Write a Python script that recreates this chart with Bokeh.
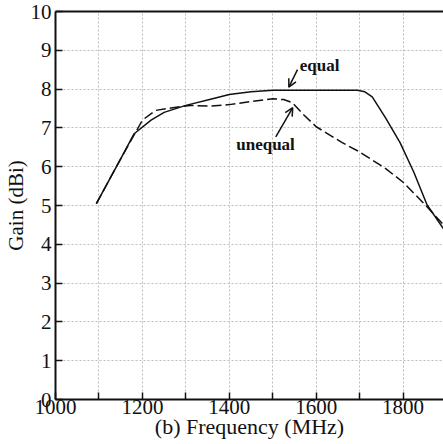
from bokeh.plotting import figure
from bokeh.models import FixedTicker, Arrow, OpenHead, Label, Range1d, LinearAxis
from bokeh.embed import file_html
from bokeh.resources import INLINE

# Data
freq_equal = [1094, 1150, 1181, 1220, 1250, 1300, 1357, 1400, 1450, 1500, 1600, 1695, 1712, 1729, 1760, 1793, 1825, 1855, 1893]
gain_equal = [5.05, 6.2, 6.85, 7.2, 7.4, 7.58, 7.74, 7.86, 7.93, 7.97, 7.97, 7.97, 7.93, 7.8, 7.25, 6.62, 5.85, 5.02, 4.4]

freq_unequal = [1094, 1150, 1200, 1230, 1270, 1310, 1357, 1400, 1450, 1500, 1525, 1545, 1570, 1600, 1660, 1700, 1760, 1800, 1855, 1893]
gain_unequal = [5.05, 6.2, 7.2, 7.45, 7.52, 7.58, 7.56, 7.6, 7.68, 7.75, 7.73, 7.65, 7.35, 7.03, 6.62, 6.38, 5.95, 5.6, 4.97, 4.5]

x_ticks = [1000, 1200, 1400, 1600, 1800]
x_minor = [1100, 1300, 1500, 1700]
y_ticks = [0, 1, 2, 3, 4, 5, 6, 7, 8, 9, 10]

FONT = "Liberation Serif"

p = figure(width=443, height=444, output_backend="svg", toolbar_location=None,
           x_range=Range1d(1000, 1893), y_range=Range1d(0, 10),
           min_border_left=55, min_border_top=11, min_border_right=0, min_border_bottom=45)
p.background_fill_color = "white"
p.border_fill_color = "white"
p.outline_line_color = None

# grid
for g in (p.xgrid, p.ygrid):
    g.grid_line_color = "#bdbdbd"
    g.grid_line_dash = "2 2"
    g.grid_line_width = 1
p.xgrid.minor_grid_line_color = "#bdbdbd"
p.xgrid.minor_grid_line_dash = "2 2"

p.xaxis.ticker = FixedTicker(ticks=x_ticks, minor_ticks=x_minor)
p.yaxis.ticker = FixedTicker(ticks=y_ticks)

for ax in (p.xaxis, p.yaxis):
    ax.axis_line_color = "#111111"
    ax.axis_line_width = 2
    ax.major_tick_in = 7
    ax.major_tick_out = 0
    ax.minor_tick_in = 7
    ax.minor_tick_out = 0
    ax.major_tick_line_color = "#111111"
    ax.minor_tick_line_color = "#111111"
    ax.major_tick_line_width = 1.5
    ax.minor_tick_line_width = 1.5
    ax.major_label_text_font = FONT
    ax.major_label_text_font_size = "21px"
    ax.major_label_text_color = "#111111"
    ax.axis_label_text_font = FONT
    ax.axis_label_text_font_style = "normal"
    ax.axis_label_text_color = "#111111"

p.xaxis.axis_label_text_font_size = "22px"
p.yaxis.axis_label_text_font_size = "21px"
p.xaxis.major_label_standoff = 0
p.xaxis.axis_label_standoff = -3
p.yaxis.major_label_standoff = 4
p.yaxis.axis_label_standoff = 0

p.yaxis.minor_tick_line_color = None
p.xaxis.axis_label = "(b) Frequency (MHz)"
p.yaxis.axis_label = "Gain (dBi)"

# top frame line
top = LinearAxis(ticker=FixedTicker(ticks=[]), major_label_text_font_size="0px",
                 axis_line_color="#111111", axis_line_width=2,
                 major_tick_line_color=None, minor_tick_line_color=None)
p.add_layout(top, "above")

p.line(freq_equal, gain_equal, line_color="#111111", line_width=1.5)
p.line(freq_unequal, gain_unequal, line_color="#111111", line_width=1.5, line_dash="10 4")

# annotations
p.add_layout(Label(x=1562, y=8.6, text="equal", text_font=FONT, text_font_size="17px",
                   text_font_style="bold", text_color="#111111", text_baseline="middle"))
p.add_layout(Arrow(end=OpenHead(size=8, line_width=1.5, line_color="#111111"),
                   x_start=1557, y_start=8.5, x_end=1537, y_end=8.05,
                   line_width=1.5, line_color="#111111"))
p.add_layout(Label(x=1416, y=6.56, text="unequal", text_font=FONT, text_font_size="17px",
                   text_font_style="bold", text_color="#111111", text_baseline="middle"))
p.add_layout(Arrow(end=OpenHead(size=8, line_width=1.5, line_color="#111111"),
                   x_start=1507, y_start=6.77, x_end=1546, y_end=7.52,
                   line_width=1.5, line_color="#111111"))

open("out.html", "w").write(file_html(p, INLINE))
